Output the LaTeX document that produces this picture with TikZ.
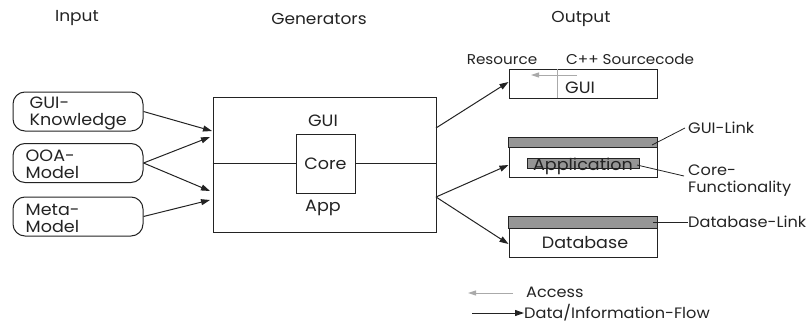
\documentclass[tikz,border=0pt]{standalone}
\usepackage{fontspec}
\setmainfont{Poppins}[FakeStretch=1.07]
\usetikzlibrary{arrows.meta}
\definecolor{bandgray}{RGB}{150,150,150}
\definecolor{accessgray}{RGB}{170,170,170}
\definecolor{ink}{RGB}{35,35,35}
\tikzset{
  every node/.style={inner sep=0pt, text=ink},
  bigtext/.style={font=\fontsize{16.4}{17}\selectfont},
  notetext/.style={font=\fontsize{15.1}{17}\selectfont},
  srctext/.style={font=\fontsize{14.2}{16}\selectfont},
  headtext/.style={font=\fontsize{15.9}{17}\selectfont},
  inbox/.style={draw=ink, rounded corners=12pt, line width=1pt, minimum width=130, minimum height=39},
  plainbox/.style={draw=ink, line width=1pt},
  flow/.style={draw=ink, -{Triangle[length=9pt,width=6pt]}, line width=1pt},
  access/.style={-{Triangle[length=8pt,width=5pt]}, line width=1pt, accessgray},
  leader/.style={draw=ink, line width=0.8pt},
  band/.style={draw=ink, fill=bandgray, line width=1pt},
}
\begin{document}
\begin{tikzpicture}[x=1pt,y=-1pt]
\useasboundingbox (0,0) rectangle (811,324);

% column headings
\node[headtext] (hin)  at (77,18.5)  {Input};
\node[headtext] (hgen) at (319,18.5) {Generators};
\node[headtext] (hout) at (581,18.5) {Output};

% input sources
\node[inbox] (gk)   at (78,111.5) {};
\node[inbox] (ooa)  at (78,163)   {};
\node[inbox] (meta) at (78,216.5) {};
\node[bigtext, anchor=west, align=left] (gkt)   at ([xshift=17pt,yshift=-1.5pt]gk.west)   {GUI-\\Knowledge};
\node[bigtext, anchor=west, align=left] (ooat)  at ([xshift=13pt,yshift=-1.5pt]ooa.west)  {OOA-\\Model};
\node[bigtext, anchor=west, align=left] (metat) at ([xshift=13pt,yshift=-1.5pt]meta.west) {Meta-\\Model};

% generator block
\node[plainbox, minimum width=223, minimum height=135] (gen) at (324.5,164.5) {};
\node[plainbox, bigtext, minimum width=59, minimum height=59] (core) at (325.5,163.5) {Core};
\draw[draw=ink, line width=1pt] (gen.west |- core.west) -- (core.west);
\draw[draw=ink, line width=1pt] (core.east) -- (gen.east |- core.east);
\node[bigtext] (tgui) at (323,121) {GUI};
\node[bigtext] (tapp) at (323,208) {App};

\coordinate (gin1) at (212,131);
\coordinate (gin2) at (210,137);
\coordinate (gin3) at (210,191);
\coordinate (gin4) at (210,200);
\coordinate (gout1) at (436,128);
\coordinate (gout2) at (436,197);

\draw[flow] (gk.east) -- (gin1);
\draw[flow] (ooa.east) -- (gin2);
\draw[flow] (ooa.east) -- (gin3);
\draw[flow] (meta.east) -- (gin4);

% output: GUI
\node[plainbox, minimum width=148, minimum height=29] (ogui) at (583,83.5) {};
\draw[accessgray, line width=1pt] (557,98) -- (557,69);
\coordinate (accfrom) at (577,75);
\coordinate (accto) at (531,75);
\draw[access] (accfrom) -- (accto);
\node[bigtext] (tguiout) at (580,88) {GUI};
\node[srctext] (tres) at (502,60) {Resource};
\node[srctext, anchor=west] (tsrc) at (566,59) {C++ Sourcecode};

% output: application
\node[plainbox, minimum width=148, minimum height=39] (oapp) at (583,157.5) {};
\draw[band] (oapp.north west) rectangle (657,147);
\node[band, minimum width=112, minimum height=10] (corefn) at (583,163) {};
\node[bigtext] (tappl) at (583,166.5) {Application};

% output: database
\node[plainbox, minimum width=148, minimum height=40] (odb) at (583,237) {};
\draw[band] (odb.north west) rectangle (657,228);
\node[bigtext] (tdb) at (585,243) {Database};

\draw[flow] (gout1) -- (ogui.west |- 0,82);
\draw[flow] (gout2) -- (oapp.west |- 0,165);
\draw[flow] (gout2) -- (odb.west |- 0,244);

% annotations
\node[notetext, anchor=west] (lguilink) at (688,128) {GUI-Link};
\node[notetext, anchor=west, align=left] (lcore) at (688,181) {Core-\\Functionality};
\node[notetext, anchor=west] (ldblink) at (688,222) {Database-Link};
\coordinate (pguilink) at (652,145);
\coordinate (pcore) at (637,165);
\coordinate (pcoreend) at (684,176);
\coordinate (pdblink) at (653,222);
\draw[leader] (pguilink) -- ([xshift=-3pt]lguilink.west);
\draw[leader] (pcore) -- (pcoreend);
\draw[leader] (pdblink) -- (ldblink.west);

% legend
\node[notetext, anchor=west] (lacc) at (526,292) {Access};
\node[notetext, anchor=west] (lflow) at (524,313) {Data/Information-Flow};
\coordinate (la1) at (513,293);
\coordinate (la2) at (468,293);
\coordinate (lf1) at (472,313);
\draw[access] (la1) -- (la2);
\draw[flow] (lf1) -- (lflow.west);
\end{tikzpicture}
\end{document}
